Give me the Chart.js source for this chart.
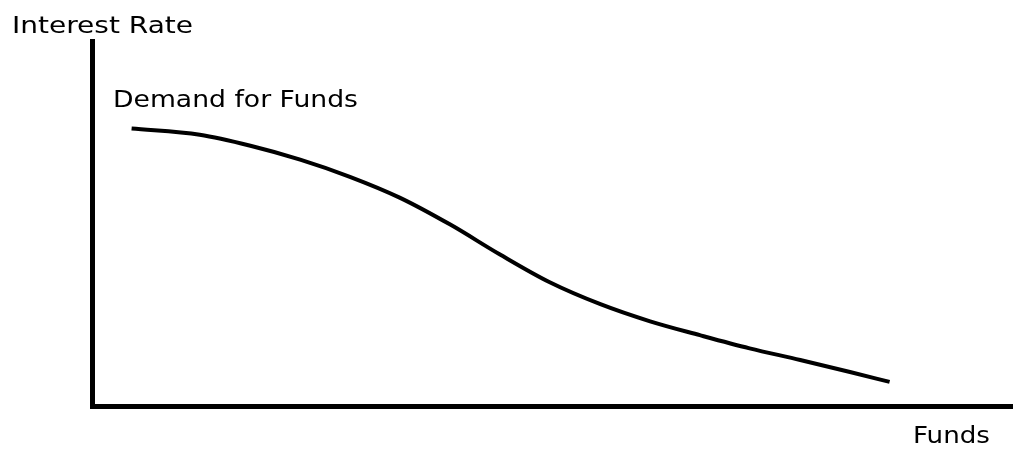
<!DOCTYPE html>
<html>
<head>
<meta charset="utf-8">
<script src="https://cdn.jsdelivr.net/npm/chart.js@4/dist/chart.umd.min.js"></script>
<style>
  html, body { margin: 0; padding: 0; background: #fff; }
  #wrap { width: 1013px; height: 449px; position: relative; }
</style>
</head>
<body>
<div id="wrap"><canvas id="demandChart"></canvas></div>
<script>
// Demand for funds curve (abstract units, 0-100 on both axes)
const fundsX = [4.3, 11.7, 17.2, 22.6, 28.0, 33.4, 38.9, 44.3, 49.7, 55.2, 60.6, 66.0, 71.4, 76.9, 82.3, 86.6];
const rateY = [76.0, 74.3, 71.3, 67.5, 62.8, 57.1, 49.7, 41.5, 33.9, 27.9, 23.2, 19.4, 15.8, 12.6, 9.3, 6.6];
const curveLabel = 'Demand for Funds';
const xAxisLabel = 'Funds';
const yAxisLabel = 'Interest Rate';

const FONT = '23px "DejaVu Sans", Verdana, sans-serif';

// draw text stretched to a given width (reference font is wider than DejaVu)
function wideText(ctx, text, left, baseline, width) {
  const w = ctx.measureText(text).width;
  ctx.save();
  ctx.translate(left, baseline);
  ctx.scale(width / w, 1);
  ctx.fillText(text, 0, 0);
  ctx.restore();
}

const labelsPlugin = {
  id: 'diagramLabels',
  afterDraw(chart) {
    const ctx = chart.ctx;
    ctx.save();
    ctx.font = FONT;
    ctx.fillStyle = '#000';
    ctx.textBaseline = 'alphabetic';
    ctx.textAlign = 'left';
    wideText(ctx, yAxisLabel, 12, 33, 181);
    wideText(ctx, curveLabel, 113, 107, 245);
    wideText(ctx, xAxisLabel, 913, 443, 77);
    ctx.restore();
  }
};

function renderChart() {
  const ctx = document.getElementById('demandChart');
  new Chart(ctx, {
    type: 'line',
    data: {
      datasets: [{
        label: curveLabel,
        data: fundsX.map((x, i) => ({ x: x, y: rateY[i] })),
        borderColor: '#000',
        borderWidth: 4,
        pointRadius: 0,
        cubicInterpolationMode: 'monotone',
        fill: false
      }]
    },
    options: {
      responsive: true,
      maintainAspectRatio: false,
      animation: false,
      layout: { padding: { left: 84, right: 0, top: 41, bottom: 35 } },
      plugins: { legend: { display: false }, tooltip: { enabled: false } },
      scales: {
        x: {
          type: 'linear', min: 0, max: 100,
          ticks: { display: false },
          grid: { display: false },
          border: { display: true, color: '#000', width: 5 }
        },
        y: {
          min: 0, max: 100,
          ticks: { display: false },
          grid: { display: false },
          border: { display: true, color: '#000', width: 5 }
        }
      }
    },
    plugins: [labelsPlugin]
  });
}

window.onload = renderChart;
</script>
</body>
</html>
